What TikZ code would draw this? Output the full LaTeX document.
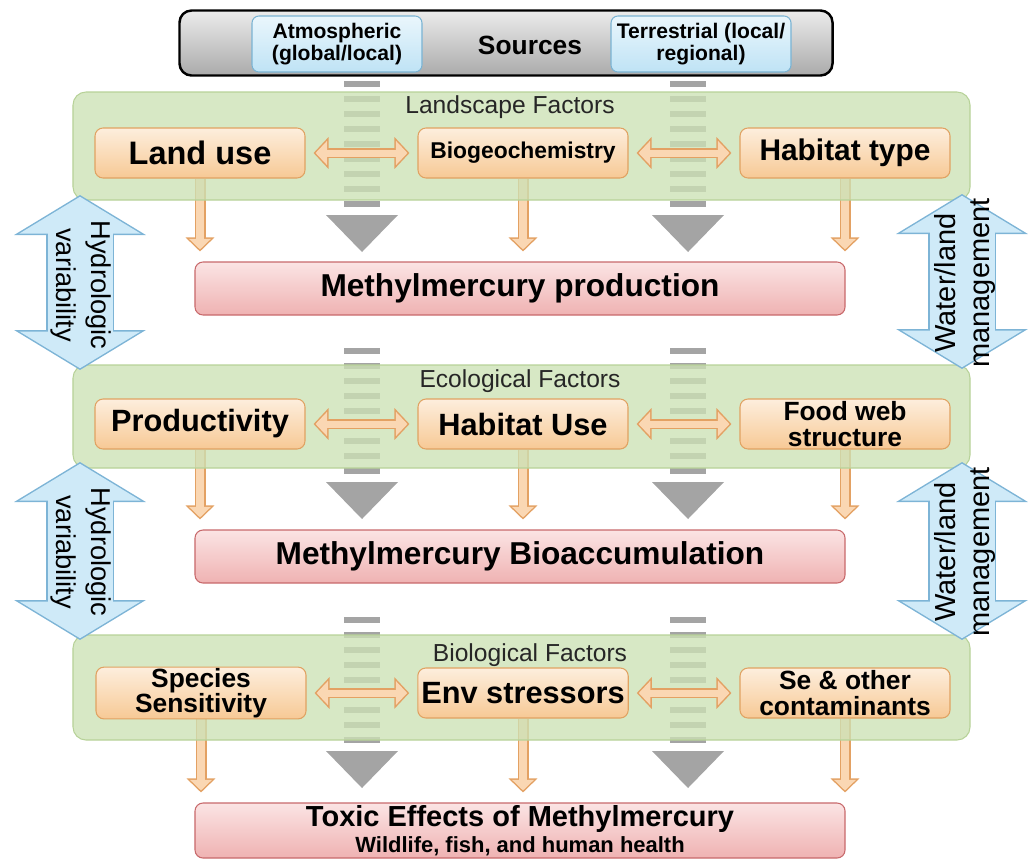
\documentclass[tikz,border=0pt]{standalone}
\usepackage{fontspec}
\setmainfont{Liberation Sans}
\usetikzlibrary{positioning,arrows.meta,calc}
\definecolor{frametop}{HTML}{EBEBEB}
\definecolor{framebot}{HTML}{ABABAB}
\definecolor{srctop}{HTML}{EAF6FC}
\definecolor{srcbot}{HTML}{BFE3F5}
\definecolor{srcline}{HTML}{7AB3D3}
\definecolor{facttop}{HTML}{FDEEDD}
\definecolor{factbot}{HTML}{F7C995}
\definecolor{factline}{HTML}{E0A262}
\definecolor{restop}{HTML}{FBE4E4}
\definecolor{resbot}{HTML}{EFB2B2}
\definecolor{resline}{HTML}{C8696B}
\definecolor{grpfill}{HTML}{CCE1B5}
\definecolor{grpline}{HTML}{B7D298}
\definecolor{streamgrey}{HTML}{A4A4A4}
\definecolor{arrline}{HTML}{E3A163}
\definecolor{arrfill}{HTML}{FAD7B3}
\definecolor{hydline}{HTML}{7DB4D6}
\definecolor{hydfill}{HTML}{CFEAF8}
\pgfdeclarelayer{streams}
\pgfdeclarelayer{panels}
\pgfsetlayers{streams,panels,main}
\tikzset{
  box/.style     = {rounded corners=1.6mm, draw, align=center, inner sep=2pt,
                    minimum width=42mm, minimum height=10mm, line width=0.6pt},
  factor/.style  = {box, top color=facttop, bottom color=factbot, draw=factline,
                    font=\bfseries\fontsize{17.5}{17.5}\selectfont},
  twoline/.style = {factor, inner sep=0.5pt, font=\bfseries\fontsize{15}{15}\selectfont},
  result/.style  = {box, minimum width=130mm, minimum height=10.6mm, top color=restop,
                    bottom color=resbot, draw=resline, font=\bfseries\fontsize{18}{18}\selectfont},
  source/.style  = {box, minimum width=34mm, minimum height=11.2mm, rounded corners=1.4mm,
                    top color=srctop, bottom color=srcbot, draw=srcline,
                    font=\bfseries\fontsize{12}{12.5}\selectfont},
  srcframe/.style= {rounded corners=2.4mm, draw=black, line width=1.4pt, top color=frametop,
                    bottom color=framebot, minimum width=130.6mm, minimum height=13mm},
  panel/.style   = {rounded corners=2.6mm, draw=grpline, line width=0.6pt, fill=grpfill,
                    fill opacity=0.78, minimum width=179.4mm, inner sep=0pt},
  ptitle/.style  = {font=\fontsize{14}{14}\selectfont, text=black!85},
  flowtxt/.style = {align=center, font=\fontsize{15.5}{19.5}\selectfont},
  stream/.style  = {fill=streamgrey},
  dblout/.style  = {line width=2mm, draw=arrline,
                    arrows={Triangle[length=3mm,width=6.2mm]-Triangle[length=3mm,width=6.2mm]},
                    shorten <=1.6mm, shorten >=1.6mm},
  dblin/.style   = {line width=1.4mm, draw=arrfill,
                    arrows={Triangle[length=2.3mm,width=4.7mm]-Triangle[length=2.3mm,width=4.7mm]},
                    shorten <=2mm, shorten >=2mm},
  downout/.style = {line width=2.2mm, draw=arrline,
                    arrows={-Triangle[length=2.8mm,width=5.6mm]}, shorten >=2mm},
  downin/.style  = {line width=1.6mm, draw=arrfill,
                    arrows={-Triangle[length=2.1mm,width=4.2mm]}, shorten >=2.4mm},
  hydout/.style  = {line width=13.6mm, draw=hydline,
                    arrows={Triangle[length=8mm,width=26mm]-Triangle[length=8mm,width=26mm]}},
  hydin/.style   = {line width=13mm, draw=hydfill,
                    arrows={Triangle[length=7.35mm,width=23.9mm]-Triangle[length=7.35mm,width=23.9mm]},
                    shorten <=0.35mm, shorten >=0.35mm},
}

\begin{document}
\begin{tikzpicture}[x=0.2mm, y=-0.2mm]
  \useasboundingbox (0,0) rectangle (1028,861);

  % --- sources ---
  \node[srcframe] (src) at (506,43) {};
  \node[source] (atm) at (337,44) {Atmospheric\\(global/local)};
  \node[source, minimum width=36mm] (terr) at (701,44) {Terrestrial (local/\\regional)};
  \node[font=\bfseries\fontsize{15}{15}\selectfont] (srct) at (530,45) {Sources};

  % --- factor panels ---
  \begin{pgfonlayer}{panels}
    \node[panel, minimum height=21.6mm] (land) at (521.5,146) {};
    \node[panel, minimum height=20.6mm] (eco)  at (521.5,416.5) {};
    \node[panel, minimum height=21mm]   (bio)  at (521.5,687.5) {};
  \end{pgfonlayer}
  \node[ptitle] (landt) at (510,107) {Landscape Factors};
  \node[ptitle] (ecot)  at (520,381) {Ecological Factors};
  \node[ptitle] (biot)  at (530,655) {Biological Factors};

  \node[factor, font=\bfseries\fontsize{18.5}{18.5}\selectfont] (lu) at (200,153) {Land use};
  \node[factor, font=\bfseries\fontsize{13}{13}\selectfont] (bg) at (523,153) {Biogeochemistry};
  \node[factor, font=\bfseries\fontsize{17}{17}\selectfont] (hab) at (845,153) {Habitat type};

  \node[factor] (prod) at (200,424) {Productivity};
  \node[factor] (huse) at (523,424) {Habitat Use};
  \node[twoline] (food) at (845,424) {Food web\\[-0.5pt]structure};

  \node[twoline] (spec) at (201,693) {Species\\[-0.5pt]Sensitivity};
  \node[factor] (env) at (523,693) {Env stressors};
  \node[twoline] (sec) at (845,693) {Se \& other\\[-0.5pt]contaminants};

  % --- methylmercury results ---
  \node[result] (mhp) at (520,288.5) {Methylmercury production};
  \node[result] (mhb) at (520,556.5) {Methylmercury Bioaccumulation};
  \node[result, minimum height=11mm, inner sep=0.5pt, font=\bfseries\fontsize{16.5}{16.5}\selectfont] (tox) at (520,830.5)
        {Toxic Effects of Methylmercury\\[-2pt]{\fontsize{12.5}{12.5}\selectfont Wildlife, fish, and human health}};

  % --- grey streams and downward arrows, behind the panels ---
  \begin{pgfonlayer}{streams}
    \foreach \sx in {362,688}{
      \foreach \sy in {81,348,617}{
        \foreach \k in {0,...,8}
          \fill[stream] (\sx-18,\sy+15*\k) rectangle ++(36,6);
        \fill[stream] (\sx-36,\sy+134) -- (\sx+36,\sy+134) -- (\sx,\sy+171) -- cycle;
      }
    }
    \foreach \a/\b in {lu/mhp, bg/mhp, hab/mhp, prod/mhb, huse/mhb, food/mhb, spec/tox, env/tox, sec/tox}{
      \draw[downout] (\a.south) -- (\a.south |- \b.north);
      \draw[downin]  (\a.south) -- (\a.south |- \b.north);
    }
  \end{pgfonlayer}

  % --- links between factors ---
  \foreach \a/\b in {lu/bg, bg/hab, prod/huse, huse/food, spec/env, env/sec}{
    \draw[dblout] (\a.east) -- (\b.west);
    \draw[dblin]  (\a.east) -- (\b.west);
  }

  % --- hydrologic variability and water/land management ---
  \coordinate (hyd1t) at (80,195);
  \coordinate (hyd1b) at (80,370);
  \coordinate (hyd2t) at (80,462);
  \coordinate (hyd2b) at (80,640);
  \coordinate (man1t) at (962,194);
  \coordinate (man1b) at (962,369);
  \coordinate (man2t) at (962,462);
  \coordinate (man2b) at (962,640);
  \foreach \a/\b in {hyd1t/hyd1b, hyd2t/hyd2b, man1t/man1b, man2t/man2b}{
    \draw[hydout] (\a) -- (\b);
    \draw[hydin]  (\a) -- (\b);
  }
  \node[flowtxt, rotate=-90] (hyd1) at (81,285) {Hydrologic\\variability};
  \node[flowtxt, rotate=-90] (hyd2) at (81,552) {Hydrologic\\variability};
  \node[flowtxt, rotate=90, font=\fontsize{16.5}{19.5}\selectfont] (man1) at (965,283) {Water/land\\management};
  \node[flowtxt, rotate=90, font=\fontsize{16.5}{19.5}\selectfont] (man2) at (965,552) {Water/land\\management};
\end{tikzpicture}
\end{document}
